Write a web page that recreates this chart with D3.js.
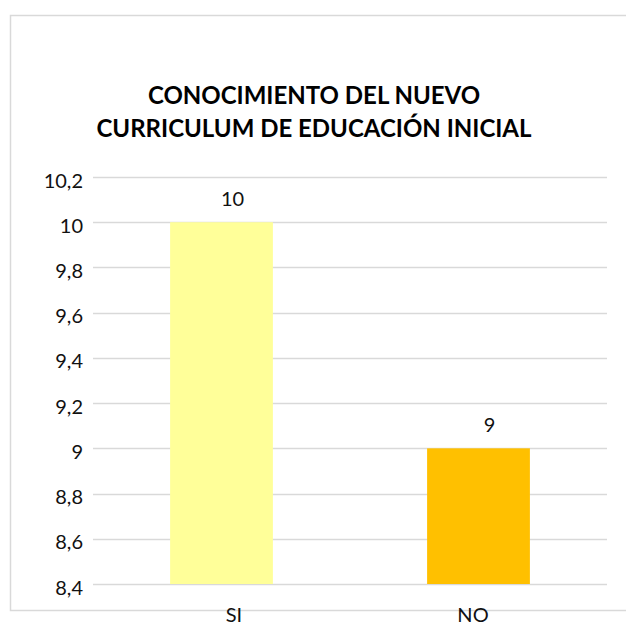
<!DOCTYPE html>
<html>
<head>
<meta charset="utf-8">
<script src="https://cdn.jsdelivr.net/npm/d3@7"></script>
<style>
  body { margin: 0; background: #fff; }
  svg { display: block; font-family: Lato, "Open Sans", sans-serif; }
</style>
</head>
<body>
<svg class="chart" width="626" height="624"></svg>
<script>
const categories = ['SI', 'NO'];
const values = [10, 9];
const barColors = ['#FFFF99', '#FFC000'];
const titleLines = ['CONOCIMIENTO DEL NUEVO', 'CURRICULUM DE EDUCACIÓN INICIAL'];
const yDomain = [8.4, 10.2];

const margins = {top: 177, left: 93, right: 19, bottom: 40};
const width = 626, height = 624;

const svg = d3.select('.chart');

// chart frame (cut off at right and bottom like the original)
svg.append('rect')
    .attr('x', 10.5).attr('y', 15.5)
    .attr('width', 640).attr('height', 595)
    .attr('fill', '#fff')
    .attr('stroke', '#d9d9d9')
    .attr('stroke-width', 1.5);

const locale = d3.formatLocale({decimal: ',', thousands: '.', grouping: [3], currency: ['', '']});
const fmt = locale.format('~g');

const xScale = d3.scaleBand().domain(categories)
    .range([margins.left, width - margins.right])
    .paddingInner(0.6).paddingOuter(0.3);
// category labels sit a bit off the bar centres in the original
const labelScale = d3.scalePoint().domain(categories).range([234, 473]);
const yScale = d3.scaleLinear().domain(yDomain)
    .range([584, margins.top]);

// gridlines
svg.append('g')
    .selectAll('line')
    .data(yScale.ticks(10))
    .enter()
    .append('line')
    .attr('x1', margins.left).attr('x2', width - margins.right)
    .attr('y1', d => Math.round(yScale(d)) + 0.5)
    .attr('y2', d => Math.round(yScale(d)) + 0.5)
    .attr('stroke', '#d9d9d9')
    .attr('stroke-width', 1.5);

// y axis labels
const yAxis = svg.append('g')
    .attr('transform', `translate(${margins.left - 10}, 0)`)
    .call(d3.axisLeft(yScale).ticks(10).tickFormat(fmt).tickSize(0).tickPadding(0));
yAxis.select('.domain').remove();
yAxis.selectAll('text')
    .attr('font-family', 'Lato, "Open Sans", sans-serif')
    .attr('font-size', 20)
    .attr('fill', '#111')
    .attr('dy', '0.5em');

// bars
svg.selectAll('.bar')
    .data(values)
    .enter()
    .append('rect')
    .classed('bar', true)
    .attr('x', (d, i) => xScale(categories[i]))
    .attr('y', d => yScale(d))
    .attr('width', xScale.bandwidth())
    .attr('height', d => yScale(yDomain[0]) - yScale(d))
    .attr('fill', (d, i) => barColors[i]);

// data labels
svg.selectAll('.val')
    .data(values)
    .enter()
    .append('text')
    .classed('val', true)
    .attr('x', (d, i) => xScale(categories[i]) + xScale.bandwidth() / 2 + 11)
    .attr('y', d => yScale(d) - 16)
    .attr('text-anchor', 'middle')
    .attr('font-size', 20)
    .attr('fill', '#111')
    .text(d => fmt(d));

// category labels
svg.selectAll('.cat')
    .data(categories)
    .enter()
    .append('text')
    .classed('cat', true)
    .attr('x', d => labelScale(d))
    .attr('y', 622)
    .attr('text-anchor', 'middle')
    .attr('font-size', 20)
    .attr('fill', '#111')
    .text(d => d);

// title
svg.append('text')
    .attr('text-anchor', 'middle')
    .attr('font-weight', 'bold')
    .attr('font-size', 24)
    .attr('fill', '#000')
    .selectAll('tspan')
    .data(titleLines)
    .enter()
    .append('tspan')
    .attr('x', 314)
    .attr('y', (d, i) => 104 + i * 33)
    .text(d => d);
</script>
</body>
</html>
